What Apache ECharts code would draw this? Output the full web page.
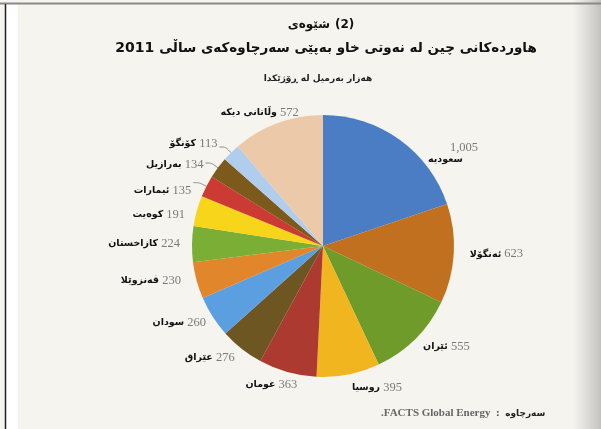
<!DOCTYPE html>
<html>
<head>
<meta charset="utf-8">
<script src="https://cdn.jsdelivr.net/npm/echarts@6/dist/echarts.min.js"></script>
<style>html,body{margin:0;padding:0;background:#f6f4ef;}#c{width:601px;height:429px;}</style>
</head>
<body>
<div id="c"></div>
<script>
const categories = ['سعودیە','ئەنگۆلا','ئێران','روسیا','عومان','عێراق','سودان','ڤەنزوێلا','کازاخستان','کوەیت','ئیمارات','بەرازیل','کۆنگۆ','وڵاتانی دیکە'];
const values = [1005, 623, 555, 395, 363, 276, 260, 230, 224, 191, 135, 134, 113, 572];
const valueLabels = ['1,005','623','555','395','363','276','260','230','224','191','135','134','113','572'];

// styling only (not data)
const colors = ['#4a7dc3','#c0701f','#6f9b2b','#f0b51f','#ad3a30','#6e5622','#5c9fe0','#e2862b','#7bae34','#f7d51a','#cb3a33','#7b5a1c','#b0cdee','#eccaa9'];
const leaderShown = [false,false,false,false,false,false,false,false,false,false,true,true,true,false];
const labelNudge = [[16,20],[0,0],[-6,2],[-6,5],[20,5],[6,3],[8,2],[0,-2],[4,0],[4,6],[0,8],[0,2],[0,-3],[32,-3]];

const chart = echarts.init(document.getElementById('c'));
const data = categories.map((name, i) => ({
  name: name,
  value: values[i],
  itemStyle: { color: colors[i] },
  labelLine: { show: leaderShown[i] }
}));

chart.setOption({
  backgroundColor: '#f6f4ef',
  animation: false,
  graphic: [
    { type: 'rect', shape: { x: 5, y: 4, width: 13, height: 425 }, style: { fill: '#ffffff' }, silent: true },
    { type: 'rect', shape: { x: 572, y: 0, width: 29, height: 429 }, style: { fill: new echarts.graphic.LinearGradient(0, 0, 1, 0, [{offset: 0, color: 'rgba(200,198,194,0)'}, {offset: 1, color: 'rgba(190,188,184,0.9)'}]) }, silent: true },
    { type: 'line', shape: { x1: 0, y1: 3.5, x2: 601, y2: 3.5 }, style: { stroke: '#8a8a8a', lineWidth: 2 }, silent: true },
    { type: 'line', shape: { x1: 5.5, y1: 4, x2: 5.5, y2: 429 }, style: { stroke: '#222', lineWidth: 1.5 }, silent: true }
  ],
  title: [
    {
      text: '{a|شێوەی} {b|(2)}',
      left: 316, top: 11, textAlign: 'center',
      textStyle: { rich: {
        a: { fontFamily: 'DejaVu Sans', fontSize: 12, color: '#111' },
        b: { fontFamily: 'DejaVu Sans', fontSize: 12, fontWeight: 'bold', color: '#111' }
      } }
    },
    {
      text: '{y|2011} {t|هاوردەکانی چین لە نەوتی خاو بەپێی سەرچاوەکەی ساڵی}',
      left: 321, top: 34, textAlign: 'center',
      textStyle: { rich: {
        y: { fontFamily: 'DejaVu Sans', fontSize: 14, fontWeight: 'bold', color: '#111' },
        t: { fontFamily: 'DejaVu Sans', fontSize: 13.5, fontWeight: 'bold', color: '#111' }
      } }
    },
    {
      text: 'هەزار بەرمیل لە ڕۆژێکدا',
      left: 313, top: 69, textAlign: 'center',
      textStyle: { fontFamily: 'DejaVu Sans', fontSize: 9, fontWeight: 'bold', color: '#222' }
    },
    {
      text: '{e|.FACTS Global Energy}{c|  :  }{s|سەرچاوە}',
      left: 376, top: 403,
      textStyle: { rich: {
        e: { fontFamily: 'Liberation Serif', fontSize: 11, color: '#666' },
        c: { fontFamily: 'Liberation Serif', fontSize: 11, color: '#444' },
        s: { fontFamily: 'DejaVu Sans', fontSize: 9, fontWeight: 'bold', color: '#222' }
      } }
    }
  ],
  series: [{
    type: 'pie',
    center: [323, 246],
    radius: 131,
    startAngle: 90,
    clockwise: true,
    avoidLabelOverlap: true,
    itemStyle: { borderWidth: 0 },
    label: {
      show: true,
      position: 'outside',
      distanceToLabelLine: 2,
      formatter: function (p) {
        const v = valueLabels[p.dataIndex];
        if (p.dataIndex === 0) return '{vs|' + v + '}\n{n|' + p.name + '}';
        return '{n|' + p.name + '}{v| ' + v + '}';
      },
      rich: {
        n: { fontFamily: 'DejaVu Sans', fontSize: 9.5, fontWeight: 'bold', color: '#111' },
        v: { fontFamily: 'Liberation Serif', fontSize: 12.5, color: '#7a7a7a' },
        vs: { fontFamily: 'Liberation Serif', fontSize: 12.5, color: '#7a7a7a', padding: [0, 0, 0, 22] }
      }
    },
    labelLine: {
      length: 8,
      length2: 6,
      smooth: true,
      lineStyle: { color: '#888', width: 1 }
    },
    labelLayout: function (p) {
      const n = labelNudge[p.dataIndex] || [0, 0];
      return { dx: n[0], dy: n[1] };
    },
    data: data
  }]
});
</script>
</body>
</html>
